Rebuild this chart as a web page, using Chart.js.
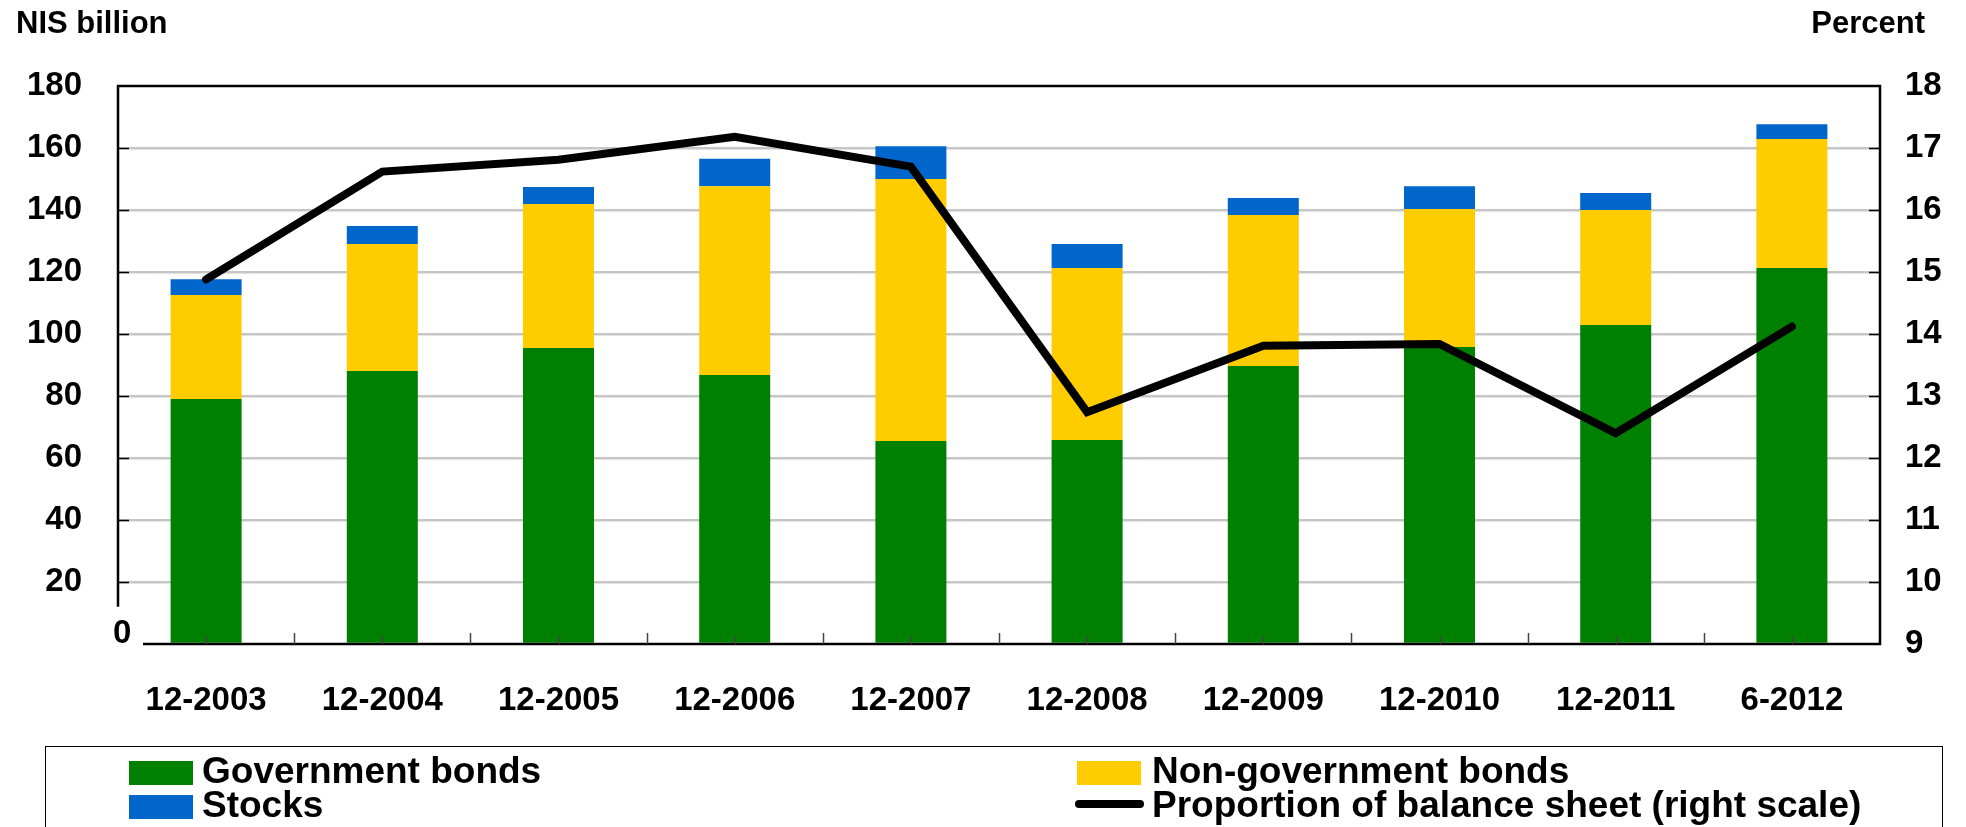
<!DOCTYPE html>
<html>
<head>
<meta charset="utf-8">
<script src="https://cdn.jsdelivr.net/npm/chart.js@4.4.1/dist/chart.umd.min.js"></script>
<style>
  body { margin:0; background:#fff; overflow:hidden; font-family:"Liberation Sans", Arial, sans-serif; font-weight:bold; }
  #wrap { position:absolute; left:0; top:0; width:1966px; height:827px; }
  .lbl { position:absolute; white-space:nowrap; color:#000; }
  .axisTitle { font-size:31px; line-height:31px; top:7px; }
  #legend { position:absolute; left:45px; top:746px; width:1898px; height:120px; border:1px solid #000; box-sizing:border-box; }
  .sw { position:absolute; }
  .leg { position:absolute; font-size:37px; line-height:37px; white-space:nowrap; }
</style>
</head>
<body>
<div id="wrap">
  <canvas id="chart"></canvas>
</div>
<div class="lbl axisTitle" style="left:16px;">NIS billion</div>
<div class="lbl axisTitle" style="right:41px;">Percent</div>
<div id="legend"></div>

<script>
// categories and series (NIS billion, right line in percent)
const categories = ["12-2003","12-2004","12-2005","12-2006","12-2007","12-2008","12-2009","12-2010","12-2011","6-2012"];
const govBonds    = [79.0, 88.1, 95.5, 86.8, 65.5, 65.8, 89.7, 95.8, 102.9, 121.3];
const nonGovBonds = [33.6, 40.9, 46.4, 60.9, 84.5, 55.5, 48.7, 44.5, 37.1, 41.6];
const stocks      = [5.1, 5.8, 5.5, 8.8, 10.6, 7.7, 5.5, 7.4, 5.5, 4.8];
const balanceShare = [14.88, 16.62, 16.81, 17.18, 16.70, 12.74, 13.81, 13.84, 12.40, 14.12];

const leftRange  = [0, 180, 20];
const rightRange = [9, 18, 1];

const seriesNames = ["Government bonds", "Non-government bonds", "Stocks", "Proportion of balance sheet (right scale)"];
const seriesColors = ["#008000", "#ffcc00", "#0066cc", "#000000"];

const tickFont = { family: "'Liberation Sans', Arial, sans-serif", size: 33, weight: "bold" };

// legend (html), positions in page pixels
const legend = document.getElementById("legend");
const LX = 45, LY = 746;
function legendItem(i, swatchX, textX, row) {
    const top = row === 0 ? 760 : 794;
    const sw = document.createElement("div");
    sw.className = "sw";
    if (i === 3) {
        sw.style.cssText += `left:${swatchX - LX}px; top:${top + 5 - LY}px; width:69px; height:8px; border-radius:4px; background:#000;`;
    } else {
        sw.style.cssText += `left:${swatchX - LX}px; top:${top - LY}px; width:64px; height:24px; background:${seriesColors[i]};`;
    }
    legend.appendChild(sw);
    const t = document.createElement("div");
    t.className = "leg";
    t.style.left = (textX - LX) + "px";
    t.style.top = (top - 9 - LY) + "px";
    t.textContent = seriesNames[i];
    legend.appendChild(t);
}
legendItem(0, 128, 201, 0);
legendItem(2, 128, 201, 1);
legendItem(1, 1076, 1151, 0);
legendItem(3, 1074, 1151, 1);

// axes frame, inward ticks and the lone "0"
const framePlugin = {
    id: "frame",
    afterDraw(chart) {
        const { ctx, chartArea: a, scales } = chart;
        const y = scales.y, y1 = scales.y1, x = scales.x;
        ctx.save();
        ctx.strokeStyle = "#000";
        ctx.lineWidth = 2.5;
        ctx.beginPath();
        ctx.moveTo(a.left, y.getPixelForValue(12));
        ctx.lineTo(a.left, a.top);
        ctx.lineTo(a.right, a.top);
        ctx.lineTo(a.right, a.bottom);
        ctx.lineTo(a.left + 25, a.bottom);
        ctx.stroke();

        ctx.lineWidth = 1.5;
        ctx.beginPath();
        for (let v = leftRange[0] + leftRange[2]; v < leftRange[1]; v += leftRange[2]) {
            const py = Math.round(y.getPixelForValue(v)) + 0.5;
            ctx.moveTo(a.left, py); ctx.lineTo(a.left + 11, py);
        }
        for (let v = rightRange[0] + rightRange[2]; v < rightRange[1]; v += rightRange[2]) {
            const py = Math.round(y1.getPixelForValue(v)) + 0.5;
            ctx.moveTo(a.right, py); ctx.lineTo(a.right - 11, py);
        }
        ctx.stroke();

        ctx.strokeStyle = "#444";
        ctx.beginPath();
        for (let i = 0; i < categories.length; i++) {
            const cx = Math.round(x.getPixelForValue(i)) + 0.5;
            ctx.moveTo(cx, a.bottom); ctx.lineTo(cx, a.bottom - 8);
            if (i < categories.length - 1) {
                const bx = Math.round((x.getPixelForValue(i) + x.getPixelForValue(i + 1)) / 2) + 0.5;
                ctx.moveTo(bx, a.bottom); ctx.lineTo(bx, a.bottom - 11);
            }
        }
        ctx.stroke();

        ctx.fillStyle = "#000";
        ctx.font = "bold 33px 'Liberation Sans', Arial, sans-serif";
        ctx.textAlign = "left";
        ctx.textBaseline = "middle";
        ctx.fillText(String(leftRange[0]), a.left - 5, y.getPixelForValue(0) - 10);
        ctx.restore();
    }
};

const barSet = (i, data) => ({
    type: "bar",
    label: seriesNames[i],
    data,
    backgroundColor: seriesColors[i],
    borderWidth: 0,
    yAxisID: "y",
    stack: "s",
    order: 1,
    categoryPercentage: 1,
    barPercentage: 0.403
});

new Chart(document.getElementById("chart"), {
    data: {
        labels: categories,
        datasets: [
            {
                type: "line",
                label: seriesNames[3],
                data: balanceShare,
                borderColor: seriesColors[3],
                borderWidth: 8,
                borderCapStyle: "round",
                borderJoinStyle: "miter",
                pointRadius: 0,
                tension: 0,
                yAxisID: "y1",
                order: 0
            },
            barSet(0, govBonds),
            barSet(1, nonGovBonds),
            barSet(2, stocks)
        ]
    },
    options: {
        responsive: true,
        maintainAspectRatio: false,
        animation: false,
        layout: { padding: { top: 86, left: 0, right: 0, bottom: 0 } },
        plugins: { legend: { display: false }, tooltip: { enabled: false } },
        scales: {
            x: {
                stacked: true,
                grid: { display: false },
                border: { display: false },
                ticks: { color: "#000", font: tickFont, padding: 29, maxRotation: 0, autoSkip: false },
                afterFit: s => { s.height = 183; }
            },
            y: {
                position: "left",
                stacked: true,
                min: leftRange[0], max: leftRange[1],
                grid: {
                    color: c => (c.tick.value === leftRange[0] || c.tick.value === leftRange[1]) ? "rgba(0,0,0,0)" : "#c6c6c6",
                    lineWidth: 2.5,
                    drawTicks: false
                },
                border: { display: false },
                ticks: {
                    stepSize: leftRange[2], color: "#000", font: tickFont, padding: 36,
                    callback: v => v === leftRange[0] ? "" : v
                },
                afterFit: s => { s.width = 118; }
            },
            y1: {
                position: "right",
                min: rightRange[0], max: rightRange[1],
                grid: { display: false, drawTicks: false },
                border: { display: false },
                ticks: { stepSize: rightRange[2], color: "#000", font: tickFont, padding: 25 },
                afterFit: s => { s.width = 86; }
            }
        }
    },
    plugins: [framePlugin]
});
</script>
</body>
</html>
